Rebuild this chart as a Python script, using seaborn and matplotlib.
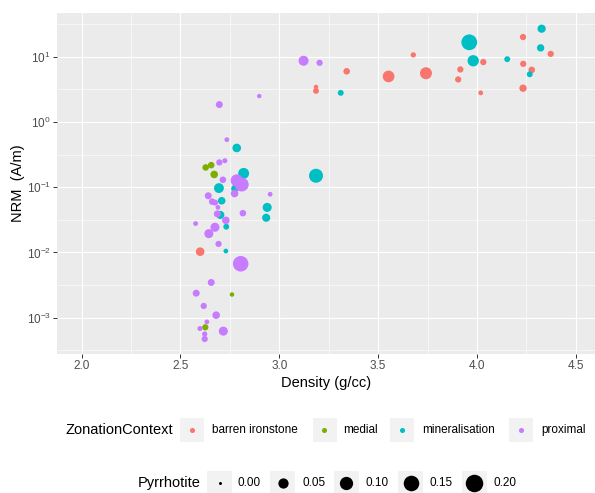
import numpy as np
import pandas as pd
import matplotlib
matplotlib.use("Agg")
import matplotlib.pyplot as plt
import seaborn as sns
from matplotlib.patches import Rectangle
from matplotlib.lines import Line2D
from matplotlib.ticker import FixedLocator, FixedFormatter

# ---------------- data ----------------
barren_density = [3.553, 3.742, 3.678, 3.916, 3.905, 4.032, 4.019, 4.233, 4.234, 4.277, 4.233, 4.373, 3.341, 3.186, 3.186, 2.600]
barren_nrm = [5.0, 5.6, 10.7, 6.4, 4.5, 8.3, 2.8, 20.1, 7.8, 6.3, 3.3, 11.1, 6.0, 3.45, 3.0, 0.01026]
barren_pyrr = [0.072, 0.077, 0.005, 0.010, 0.010, 0.010, 0.003, 0.010, 0.010, 0.012, 0.018, 0.010, 0.012, 0.002, 0.008, 0.030]

medial_density = [2.628, 2.656, 2.671, 2.761, 2.626]
medial_nrm = [0.201, 0.218, 0.157, 0.00226, 0.00071]
medial_pyrr = [0.012, 0.012, 0.020, 0.002, 0.010]

miner_density = [3.961, 3.981, 4.153, 4.327, 4.322, 4.267, 3.311, 3.186, 2.785, 2.820, 2.776, 2.695, 2.709, 2.939, 2.934, 2.702, 2.732, 2.730]
miner_nrm = [16.7, 8.7, 9.2, 27.0, 13.7, 5.4, 2.8, 0.15, 0.40, 0.163, 0.095, 0.097, 0.062, 0.049, 0.034, 0.0376, 0.0248, 0.0105]
miner_pyrr = [0.155, 0.066, 0.008, 0.026, 0.018, 0.008, 0.008, 0.115, 0.030, 0.060, 0.020, 0.045, 0.020, 0.035, 0.025, 0.025, 0.008, 0.003]

prox_density = [3.123, 3.204, 2.899, 2.697, 2.735, 2.697, 2.725, 2.715, 2.785, 2.810, 2.774, 2.954, 2.641, 2.661, 2.676,
                2.690, 2.816, 2.687, 2.730, 2.577, 2.675, 2.644, 2.693, 2.805, 2.656, 2.580, 2.618, 2.681, 2.634, 2.599,
                2.717, 2.623, 2.623]
prox_nrm = [8.7, 8.1, 2.5, 1.85, 0.536, 0.24, 0.255, 0.130, 0.127, 0.110, 0.080, 0.078, 0.074, 0.060, 0.058,
            0.049, 0.040, 0.039, 0.031, 0.0277, 0.0243, 0.0194, 0.0135, 0.0067, 0.00346, 0.00237, 0.00151, 0.00109,
            0.00086, 0.00068, 0.00062, 0.00056, 0.00047]
prox_pyrr = [0.047, 0.010, 0.002, 0.015, 0.003, 0.010, 0.004, 0.012, 0.080, 0.115, 0.020, 0.003, 0.015, 0.012, 0.008,
             0.003, 0.012, 0.015, 0.020, 0.003, 0.035, 0.035, 0.010, 0.150, 0.015, 0.015, 0.010, 0.020, 0.003, 0.004,
             0.035, 0.005, 0.010]

categories = ["barren ironstone", "medial", "mineralisation", "proximal"]
colors = ["#F8766D", "#7CAE00", "#00BFC4", "#C77CFF"]
size_breaks = [0.00, 0.05, 0.10, 0.15, 0.20]
size_labels = ["0.00", "0.05", "0.10", "0.15", "0.20"]
x_ticks = [2.0, 2.5, 3.0, 3.5, 4.0, 4.5]
y_ticks = [1e-3, 1e-2, 1e-1, 1e0, 1e1]

df = pd.concat([
    pd.DataFrame({"Density": barren_density, "NRM": barren_nrm, "Pyrrhotite": barren_pyrr, "ZonationContext": categories[0]}),
    pd.DataFrame({"Density": medial_density, "NRM": medial_nrm, "Pyrrhotite": medial_pyrr, "ZonationContext": categories[1]}),
    pd.DataFrame({"Density": miner_density, "NRM": miner_nrm, "Pyrrhotite": miner_pyrr, "ZonationContext": categories[2]}),
    pd.DataFrame({"Density": prox_density, "NRM": prox_nrm, "Pyrrhotite": prox_pyrr, "ZonationContext": categories[3]}),
], ignore_index=True)

DPI = 100
W, H = 595, 493

def diam_px(v):
    return 3.0 + 14.5 * np.sqrt(max(v, 0) / 0.2)

def area_pt2(v):
    return (diam_px(v) * 72.0 / DPI) ** 2

sns.set_style("white")
plt.rcParams["font.family"] = ["Liberation Sans", "DejaVu Sans"]
plt.rcParams["mathtext.fontset"] = "custom"
plt.rcParams["mathtext.rm"] = "Liberation Sans"
plt.rcParams["mathtext.it"] = "Liberation Sans"
plt.rcParams["mathtext.default"] = "regular"

fig = plt.figure(figsize=(W / DPI, H / DPI), dpi=DPI)
fig.patch.set_facecolor("white")
ax = fig.add_axes([57 / W, 1 - 354 / H, (W - 57) / W, (354 - 13) / H])
ax.set_facecolor("#EBEBEB")

sizes = {v: area_pt2(v) for v in df["Pyrrhotite"].unique()}
sns.scatterplot(data=df, x="Density", y="NRM", hue="ZonationContext", hue_order=categories,
                palette=colors, size="Pyrrhotite", sizes=sizes, linewidth=0, edgecolor="none",
                alpha=1.0, legend=False, ax=ax, zorder=3)

ax.set_yscale("log")
ax.set_xlim(1.876, 4.597)
ax.set_ylim(10 ** -3.558, 10 ** 1.672)

# grid
ax.xaxis.set_major_locator(FixedLocator(x_ticks))
ax.xaxis.set_major_formatter(FixedFormatter([f"{t:.1f}" for t in x_ticks]))
ax.xaxis.set_minor_locator(FixedLocator([2.25, 2.75, 3.25, 3.75, 4.25, 1.75, 4.75]))
ax.yaxis.set_major_locator(FixedLocator(y_ticks))
ax.yaxis.set_major_formatter(FixedFormatter([r"$10^{%d}$" % int(round(np.log10(t))) for t in y_ticks]))
ax.yaxis.set_minor_locator(FixedLocator([10 ** e for e in [-3.5, -2.5, -1.5, -0.5, 0.5, 1.5]]))
ax.grid(which="major", color="white", linewidth=0.85, zorder=1)
ax.grid(which="minor", color="white", linewidth=0.42, zorder=1)
ax.set_axisbelow(True)
for s in ax.spines.values():
    s.set_visible(False)
ax.tick_params(which="major", length=2.64, width=0.7, color="#333333", labelcolor="#4D4D4D",
               labelsize=8.45, pad=1.8, direction="out", bottom=True, left=True)
ax.tick_params(which="minor", length=0, bottom=False, left=False)

ax.set_xlabel("Density (g/cc)", fontsize=10.56, color="black", labelpad=2.5)
ax.set_ylabel("NRM  (A/m)", fontsize=10.56, color="black", labelpad=1)

# ---------------- legends (ggplot-like, bottom) ----------------
def fx(px):
    return px / W

def fy(py):
    return 1 - py / H

key = 24
# Zonation legend
y1 = 430
fig.text(fx(66), fy(y1), "ZonationContext", fontsize=10.56, ha="left", va="center", color="black")
key_centers1 = [192, 324.5, 402, 521]
label_x1 = [212.5, 343.5, 422.4, 540.8]
for c, cx, lx, lab in zip(colors, key_centers1, label_x1, categories):
    fig.add_artist(Rectangle((fx(cx - key / 2), fy(y1 + key / 2)), key / W, key / H,
                             transform=fig.transFigure, facecolor="#F2F2F2", edgecolor="none"))
    fig.add_artist(Line2D([fx(cx)], [fy(y1)], marker="o", markersize=diam_px(0.004) * 72 / DPI,
                          markerfacecolor=c, markeredgewidth=0, linestyle="none", transform=fig.transFigure))
    fig.text(fx(lx), fy(y1), lab, fontsize=8.45, ha="left", va="center", color="black")

# Pyrrhotite legend
y2 = 483
fig.text(fx(138), fy(y2), "Pyrrhotite", fontsize=10.56, ha="left", va="center", color="black")
key_centers2 = [219.6, 282.8, 346.3, 410.5, 474]
label_x2 = [237.7, 302.5, 366, 430, 493.4]
for v, cx, lx, lab in zip(size_breaks, key_centers2, label_x2, size_labels):
    fig.add_artist(Rectangle((fx(cx - key / 2 - 0.5), fy(y2 + key / 2)), (key + 1) / W, key / H,
                             transform=fig.transFigure, facecolor="#F2F2F2", edgecolor="none"))
    fig.add_artist(Line2D([fx(cx)], [fy(y2)], marker="o", markersize=diam_px(v) * 72 / DPI,
                          markerfacecolor="black", markeredgewidth=0, linestyle="none", transform=fig.transFigure))
    fig.text(fx(lx), fy(y2), lab, fontsize=8.45, ha="left", va="center", color="black")

fig.savefig("out.png", dpi=DPI, facecolor="white")
